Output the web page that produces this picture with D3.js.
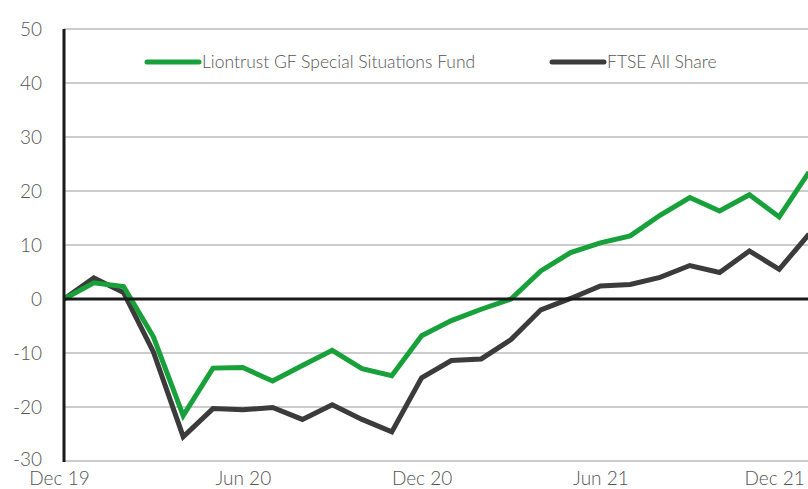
<!DOCTYPE html>
<html>
<head>
    <meta charset="utf-8">
    <title>Liontrust GF Special Situations Fund vs FTSE All Share</title>
    <script src="https://d3js.org/d3.v7.min.js"></script>
    <style>
        body {
            background: #fff;
            margin: 0;
            overflow: hidden;
        }
        #chart {
            display: block;
            overflow: hidden;
        }
        .grid line {
            stroke: #cccccc;
            stroke-width: 2px;
        }
        .tick-label, .legend-label {
            fill: #555555;
            font-family: "Lato", "Liberation Sans", Arial, sans-serif;
            font-weight: 300;
        }
        .series {
            fill: none;
            stroke-width: 5px;
            stroke-linejoin: miter;
        }
    </style>
</head>
<body>
    <svg id="chart" width="808" height="489"></svg>

    <script>
        // months from Dec 19 to Jan 22
        const months = ["Dec 19", "Jan 20", "Feb 20", "Mar 20", "Apr 20", "May 20", "Jun 20",
            "Jul 20", "Aug 20", "Sep 20", "Oct 20", "Nov 20", "Dec 20",
            "Jan 21", "Feb 21", "Mar 21", "Apr 21", "May 21", "Jun 21",
            "Jul 21", "Aug 21", "Sep 21", "Oct 21", "Nov 21", "Dec 21", "Jan 22"];

        // cumulative performance (%)
        const fund = [0, 3.0, 2.3, -7.0, -21.6, -12.8, -12.7, -15.2, -12.3, -9.5, -12.9, -14.2,
            -6.8, -4.0, -1.9, 0, 5.2, 8.6, 10.4, 11.7, 15.5, 18.8, 16.3, 19.3, 15.2, 23.5];
        const ftse = [0, 3.9, 1.2, -9.8, -25.5, -20.3, -20.5, -20.1, -22.3, -19.6, -22.3, -24.6,
            -14.6, -11.4, -11.1, -7.5, -2.0, 0.1, 2.4, 2.7, 4.0, 6.2, 4.9, 8.9, 5.5, 12.0];

        const yTicks = [-30, -20, -10, 0, 10, 20, 30, 40, 50];
        const xTicks = ["Dec 19", "Jun 20", "Dec 20", "Jun 21", "Dec 21"];

        const seriesNames = ["Liontrust GF Special Situations Fund", "FTSE All Share"];
        const seriesColors = ["#18a03a", "#3b3b3b"];

        const svg = d3.select("#chart");

        const x = d3.scalePoint()
            .domain(months)
            .range([64, 809]);

        const y = d3.scaleLinear()
            .domain([-30, 50])
            .range([461, 29]);

        // gridlines
        svg.append("g")
            .attr("class", "grid")
            .selectAll("line")
            .data(yTicks.filter(d => d !== 0))
            .enter()
            .append("line")
            .attr("x1", 64)
            .attr("x2", 808)
            .attr("y1", d => y(d))
            .attr("y2", d => y(d));

        // y labels (plain hyphen for negatives, like the original)
        const yAxis = svg.append("g")
            .attr("transform", "translate(42,0)")
            .call(d3.axisLeft(y).tickValues(yTicks).tickSize(0).tickPadding(0)
                .tickFormat(d => String(d)));
        yAxis.select(".domain").remove();
        yAxis.selectAll("text")
            .attr("class", "tick-label")
            .attr("font-size", 19)
            .attr("dy", d => d === -30 ? "0.25em" : "0.36em");

        // x labels
        const xAxis = svg.append("g")
            .attr("transform", "translate(0,470)")
            .call(d3.axisBottom(x).tickValues(xTicks).tickSize(0).tickPadding(0));
        xAxis.select(".domain").remove();
        xAxis.selectAll("text")
            .attr("class", "tick-label")
            .attr("font-size", 19)
            .attr("dy", "0.78em")
            .attr("dx", d => d === "Dec 21" ? -5 : (d === "Dec 19" ? -5 : 0));

        // lines
        const line = d3.line()
            .x((d, i) => x(months[i]))
            .y(d => y(d));

        svg.append("path")
            .datum(ftse)
            .attr("class", "series")
            .attr("stroke", seriesColors[1])
            .attr("d", line);

        svg.append("path")
            .datum(fund)
            .attr("class", "series")
            .attr("stroke", seriesColors[0])
            .attr("d", line);

        // zero line and y axis
        svg.append("line")
            .attr("x1", 64).attr("x2", 808)
            .attr("y1", y(0)).attr("y2", y(0))
            .attr("stroke", "#1a1a1a")
            .attr("stroke-width", 3);

        svg.append("line")
            .attr("x1", 64).attr("x2", 64)
            .attr("y1", y(50)).attr("y2", y(-30) + 1)
            .attr("stroke", "#1a1a1a")
            .attr("stroke-width", 3);

        // legend
        const legendX = [147, 552];
        const legend = svg.selectAll(".legend")
            .data(seriesNames)
            .enter()
            .append("g")
            .attr("class", "legend")
            .attr("transform", (d, i) => `translate(${legendX[i]},62)`);

        legend.append("line")
            .attr("x1", 0).attr("x2", 52)
            .attr("stroke", (d, i) => seriesColors[i])
            .attr("stroke-width", 5)
            .attr("stroke-linecap", "round");

        legend.append("text")
            .attr("class", "legend-label")
            .attr("x", 55)
            .attr("dy", "0.36em")
            .attr("font-size", 17.5)
            .text(d => d);
    </script>
</body>
</html>
